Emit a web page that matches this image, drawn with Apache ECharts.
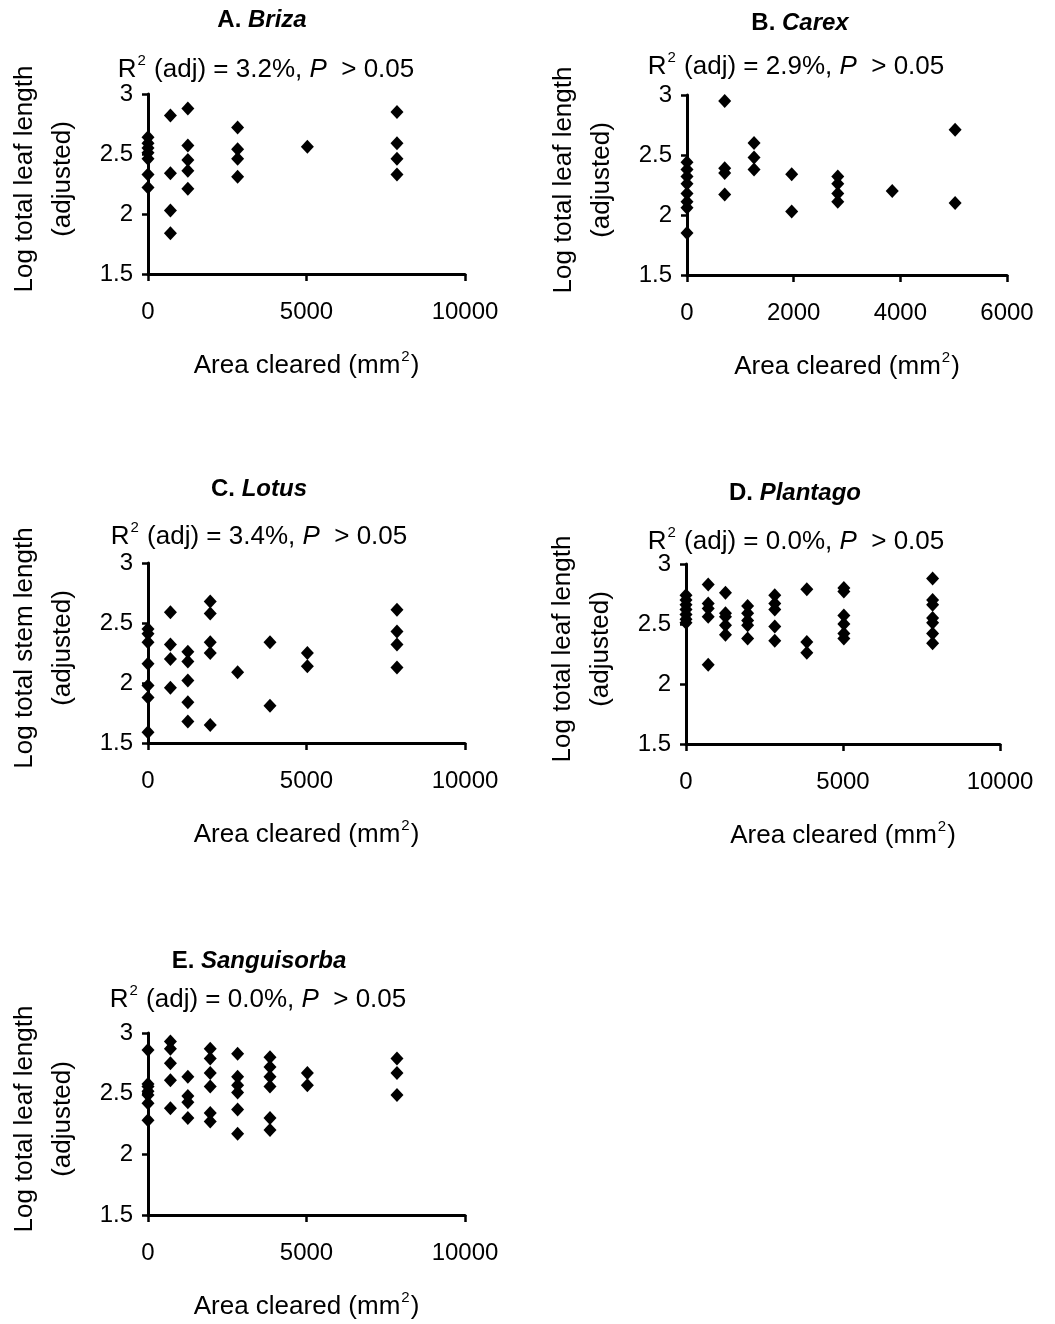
<!DOCTYPE html>
<html>
<head>
<meta charset="utf-8">
<script src="https://cdn.jsdelivr.net/npm/echarts@6/dist/echarts.min.js"></script>
<style>
html,body{margin:0;padding:0;background:#fff;}
#chart{width:1055px;height:1324px;}
</style>
</head>
<body>
<div id="chart"></div>
<script>
// ---- Data ----
// x = area cleared (mm²), y = log total length (adjusted)
const brizaX = [0,0,0,0,0,0,0, 707,707,707,707, 1257,1257,1257,1257,1257, 2827,2827,2827,2827, 5027, 7854,7854,7854,7854];
const brizaY = [2.64,2.59,2.55,2.51,2.46,2.33,2.22, 2.82,2.34,2.03,1.84, 2.88,2.57,2.45,2.36,2.21, 2.72,2.54,2.46,2.31, 2.56, 2.85,2.59,2.46,2.33];

const carexX = [0,0,0,0,0,0,0,0, 707,707,707,707, 1257,1257,1257, 1963,1963, 2827,2827,2827,2827, 3848, 5027,5027];
const carexY = [2.44,2.38,2.32,2.26,2.18,2.11,2.06,1.85, 2.95,2.39,2.35,2.17, 2.60,2.48,2.38, 2.34,2.03, 2.32,2.26,2.18,2.11, 2.20, 2.71,2.10];

const lotusX = [0,0,0,0,0,0,0, 707,707,707,707, 1257,1257,1257,1257,1257, 1963,1963,1963,1963,1963, 2827, 3848,3848, 5027,5027, 7854,7854,7854,7854];
const lotusY = [2.45,2.41,2.34,2.16,1.98,1.88,1.59, 2.59,2.32,2.20,1.96, 2.26,2.18,2.02,1.84,1.68, 2.68,2.58,2.34,2.25,1.65, 2.09, 2.34,1.81, 2.25,2.14, 2.61,2.43,2.32,2.13];

const plantagoX = [0,0,0,0,0,0,0, 707,707,707,707,707, 1257,1257,1257,1257,1257, 1963,1963,1963,1963,1963, 2827,2827,2827,2827,2827, 3848,3848,3848, 5027,5027,5027,5027,5027,5027, 7854,7854,7854,7854,7854,7854,7854];
const plantagoY = [2.74,2.70,2.66,2.62,2.58,2.54,2.51, 2.83,2.67,2.63,2.56,2.16, 2.76,2.59,2.56,2.49,2.41, 2.65,2.59,2.53,2.49,2.38, 2.74,2.67,2.62,2.48,2.36, 2.79,2.35,2.26, 2.80,2.77,2.57,2.50,2.42,2.38, 2.88,2.70,2.66,2.55,2.51,2.42,2.34];

const sanguiX = [0,0,0,0,0,0,0, 707,707,707,707,707, 1257,1257,1257,1257, 1963,1963,1963,1963,1963,1963, 2827,2827,2827,2827,2827,2827, 3848,3848,3848,3848,3848,3848, 5027,5027, 7854,7854,7854];
const sanguiY = [2.86,2.58,2.56,2.52,2.49,2.42,2.28, 2.93,2.87,2.75,2.61,2.38, 2.64,2.48,2.43,2.30, 2.87,2.79,2.67,2.56,2.34,2.27, 2.83,2.64,2.57,2.51,2.37,2.17, 2.80,2.72,2.64,2.56,2.30,2.20, 2.67,2.57, 2.79,2.67,2.49];

const panelLetters = ['A.', 'B.', 'C.', 'D.', 'E.'];
const panelGenera = ['Briza', 'Carex', 'Lotus', 'Plantago', 'Sanguisorba'];
const r2Values = ['3.2%', '2.9%', '3.4%', '0.0%', '0.0%'];
const yNames = ['Log total leaf length', 'Log total leaf length', 'Log total stem length', 'Log total leaf length', 'Log total leaf length'];
const xMaxes = [10000, 6000, 10000, 10000, 10000];
const xIntervals = [5000, 2000, 5000, 5000, 5000];

const panelX = [brizaX, carexX, lotusX, plantagoX, sanguiX];
const panelY = [brizaY, carexY, lotusY, plantagoY, sanguiY];

// ---- Layout ----
const FONT = '"Liberation Sans", Arial, Helvetica, sans-serif';
const grids = [
  {left: 148, top: 94, width: 317, height: 180},
  {left: 687, top: 95, width: 320, height: 180},
  {left: 148, top: 563, width: 317, height: 180},
  {left: 686, top: 564, width: 314, height: 180},
  {left: 148, top: 1033, width: 317, height: 182}
];
const titleCenters = [262, 800, 259, 795, 259];
const titleTops = [8, 11, 477, 481, 949];
const subCenters = [266, 796, 259, 796, 258];
const subTops = [53, 50, 520, 525, 983];

const chart = echarts.init(document.getElementById('chart'), null, {renderer: 'canvas'});

const titles = [];
const xAxes = [];
const yAxes = [];
const series = [];

const axisLineStyle = {color: '#000', width: 3};
const supRich = {
  n: {fontFamily: FONT, fontSize: 26, fontWeight: 'normal', color: '#000', verticalAlign: 'bottom', lineHeight: 30},
  s: {fontFamily: FONT, fontSize: 15, fontWeight: 'normal', color: '#000', verticalAlign: 'top', lineHeight: 30, padding: [0, 1, 12, 1]},
  i: {fontFamily: FONT, fontSize: 26, fontWeight: 'normal', fontStyle: 'italic', color: '#000', verticalAlign: 'bottom', lineHeight: 30}
};

for (let i = 0; i < 5; i++) {
  titles.push({
    text: '{b|' + panelLetters[i] + ' }{bi|' + panelGenera[i] + '}',
    left: titleCenters[i], top: titleTops[i], textAlign: 'center', padding: 0,
    textStyle: {
      fontWeight: 'bold',
      rich: {
        b: {fontFamily: FONT, fontSize: 24, fontWeight: 'bold', color: '#000'},
        bi: {fontFamily: FONT, fontSize: 24, fontWeight: 'bold', fontStyle: 'italic', color: '#000'}
      }
    }
  });
  titles.push({
    text: '{n|R}{s|2}{n| (adj) = ' + r2Values[i] + ', }{i|P}{n|  > 0.05}',
    left: subCenters[i], top: subTops[i], textAlign: 'center', padding: 0,
    textStyle: {fontWeight: 'normal', rich: supRich}
  });

  xAxes.push({
    gridIndex: i, type: 'value', min: 0, max: xMaxes[i], interval: xIntervals[i],
    axisLine: {show: true, onZero: false, lineStyle: axisLineStyle},
    axisTick: {show: true, length: 7, lineStyle: {color: '#000', width: 2.5}},
    splitLine: {show: false},
    axisLabel: {color: '#000', fontFamily: FONT, fontSize: 24, margin: 26,
      formatter: function (v) { return String(v); }},
    name: '{n|Area cleared (mm}{s|2}{n|)}',
    nameLocation: 'middle', nameGap: 75,
    nameTextStyle: {rich: supRich}
  });

  yAxes.push({
    gridIndex: i, type: 'value', min: 1.5, max: 3, interval: 0.5,
    axisLine: {show: true, onZero: false, lineStyle: axisLineStyle},
    axisTick: {show: true, length: 6, lineStyle: {color: '#000', width: 2.5}},
    splitLine: {show: false},
    axisLabel: {color: '#000', fontFamily: FONT, fontSize: 24, margin: 15,
      formatter: function (v) { return String(v); }},
    name: yNames[i] + '\n(adjusted)',
    nameLocation: 'middle', nameRotate: 90, nameGap: 66,
    nameTextStyle: {fontFamily: FONT, fontSize: 26, color: '#000', lineHeight: 38, align: 'center', padding: [0, 0, 0, 10]}
  });

  series.push({
    type: 'scatter', xAxisIndex: i, yAxisIndex: i,
    symbol: 'diamond', symbolSize: [13, 14], clip: false,
    itemStyle: {color: '#000', opacity: 1},
    data: panelX[i].map((x, k) => [x, panelY[i][k]])
  });
}

chart.setOption({
  animation: false,
  backgroundColor: '#fff',
  title: titles,
  grid: grids,
  xAxis: xAxes,
  yAxis: yAxes,
  series: series
});
</script>
</body>
</html>
